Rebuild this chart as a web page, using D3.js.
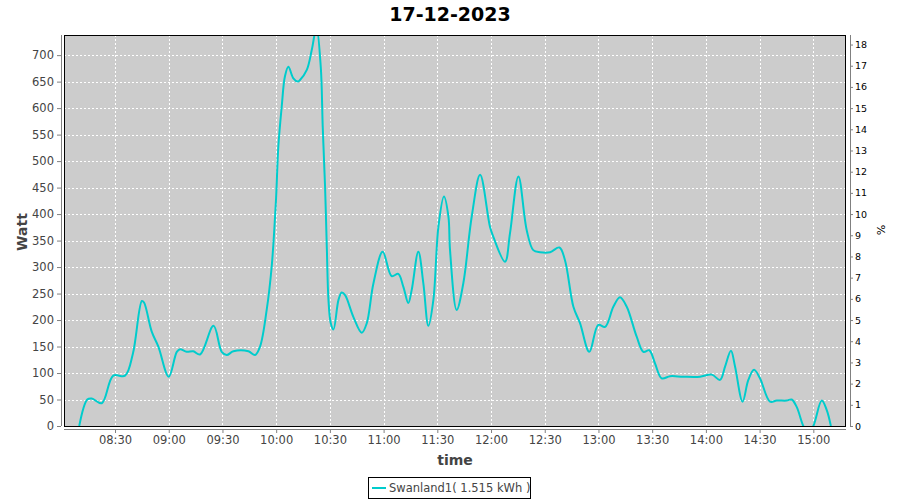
<!DOCTYPE html>
<html><head><meta charset="utf-8">
<script src="https://cdn.jsdelivr.net/npm/d3@7"></script>
<style>body{margin:0;background:#fff}svg{display:block}</style>
</head><body>
<svg id="c" width="900" height="500"></svg>
<script>
const title = "17-12-2023";
const seriesName = "Swanland1( 1.515 kWh )";
const times = ["08:10:00","08:14:30","08:17:00","08:22:36","08:29:00","08:35:36","08:40:00","08:45:00","08:46:12","08:50:30","08:54:12","09:00:00","09:04:30","09:06:18","09:10:00","09:13:42","09:17:30","09:25:00","09:29:36","09:32:24","09:36:06","09:44:30","09:48:12","09:51:00","09:54:42","09:57:30","09:59:54","10:01:12","10:03:06","10:04:54","10:06:48","10:09:36","10:12:00","10:13:18","10:17:06","10:19:54","10:22:30","10:24:54","10:26:00","10:27:18","10:28:18","10:29:12","10:30:30","10:32:00","10:34:48","10:36:36","10:38:30","10:43:06","10:47:48","10:50:36","10:54:18","10:59:30","11:04:30","11:08:12","11:11:00","11:13:48","11:15:42","11:19:24","11:22:12","11:25:00","11:27:48","11:30:36","11:33:42","11:36:12","11:37:06","11:40:48","11:44:30","11:49:12","11:53:54","11:59:24","12:01:18","12:07:48","12:10:36","12:15:18","12:19:54","12:23:36","12:27:24","12:33:00","12:38:12","12:41:18","12:46:00","12:49:42","12:54:54","12:59:54","13:03:42","13:08:18","13:12:00","13:15:48","13:21:18","13:25:06","13:28:24","13:31:36","13:35:18","13:40:00","13:47:24","13:56:42","14:03:18","14:07:54","14:10:42","14:14:00","14:16:18","14:20:30","14:23:42","14:26:54","14:30:12","14:35:48","14:39:36","14:45:06","14:47:54","14:50:42","14:54:24","14:57:00","15:00:00","15:04:42","15:07:30","15:09:48"];
const watts = [0,50,52,43,95,95,137,236,233,178,150,93,140,145,140,141,135,189,140,134,141,141,134,150,219,301,427,527,603,660,678,656,650,653,672,710,752,678,565,452,335,238,194,182,238,252,247,206,176,194,269,329,283,287,263,232,257,329,269,189,238,376,433,395,332,219,269,395,474,376,357,310,364,471,370,332,328,328,337,313,225,194,140,191,187,225,243,225,169,140,143,118,90,94,93,93,97,87,112,142,112,46,87,106,90,46,48,48,50,36,0,-15,0,48,30,0];
const xTickLabels = ["08:30","09:00","09:30","10:00","10:30","11:00","11:30","12:00","12:30","13:00","13:30","14:00","14:30","15:00"];
const xDomain = ["08:01:30","15:18:15"];
const wattMax = 738;
const pctMax = 18.45;

const parse = d3.timeParse("%H:%M:%S");
const parseHM = d3.timeParse("%H:%M");
const data = times.map((t,i)=>({t:parse(t), v:watts[i]}));

const L=64, R=846, T=35, B=426;
const svg = d3.select("#c");
const x = d3.scaleTime().domain(xDomain.map(parse)).range([L,R]);
const y = d3.scaleLinear().domain([0,wattMax]).range([B,T]);
const y2 = d3.scaleLinear().domain([0,pctMax]).range([B,T]);
const font = "'DejaVu Sans', sans-serif";

// plot background
svg.append("rect").attr("x",L).attr("y",T).attr("width",R-L).attr("height",B-T).attr("fill","#cccccc");

// grid
const yTicks = d3.range(0,701,50);
const xTicks = xTickLabels.map(parseHM);
svg.append("g").selectAll("line").data(yTicks.filter(d=>d>0)).join("line")
  .attr("x1",L).attr("x2",R).attr("y1",d=>Math.round(y(d))+0.5).attr("y2",d=>Math.round(y(d))+0.5)
  .attr("stroke","#fff").attr("stroke-width",1).attr("stroke-dasharray","2,2");
svg.append("g").selectAll("line").data(xTicks).join("line")
  .attr("y1",T).attr("y2",B).attr("x1",d=>Math.round(x(d))+0.5).attr("x2",d=>Math.round(x(d))+0.5)
  .attr("stroke","#fff").attr("stroke-width",1).attr("stroke-dasharray","2,2");

// line
svg.append("clipPath").attr("id","clip").append("rect").attr("x",L).attr("y",T).attr("width",R-L).attr("height",B-T);
const line = d3.line().x(d=>x(d.t)).y(d=>y(d.v)).curve(d3.curveCatmullRom.alpha(0.5));
svg.append("path").datum(data).attr("d",line).attr("fill","none").attr("stroke","#00cccc")
  .attr("stroke-width",2).attr("clip-path","url(#clip)");

// plot border
svg.append("rect").attr("x",L+0.5).attr("y",T+0.5).attr("width",R-L-1).attr("height",B-T).attr("fill","none").attr("stroke","#000").attr("stroke-width",1);

// left axis
const gl = svg.append("g").attr("transform",`translate(${L-3},0)`)
  .call(d3.axisLeft(y).tickValues(yTicks).tickSize(4).tickPadding(3));
gl.select(".domain").attr("stroke","#808080").attr("d",`M0.5,${T}V${B}`);
gl.selectAll(".tick line").attr("stroke","#808080");
gl.selectAll("text").attr("font-family",font).attr("font-size",11.5).attr("fill","#444");

// right axis
const gr = svg.append("g").attr("transform",`translate(${R+4},0)`)
  .call(d3.axisRight(y2).tickValues(d3.range(0,19,1)).tickSize(3).tickPadding(2));
gr.select(".domain").attr("stroke","#808080").attr("d",`M0.5,${T}V${B}`);
gr.selectAll(".tick line").attr("stroke","#808080");
gr.selectAll("text").attr("font-family",font).attr("font-size",9.5).attr("fill","#000");

// bottom axis
const gb = svg.append("g").attr("transform",`translate(0,${B+3})`)
  .call(d3.axisBottom(x).tickValues(xTicks).tickFormat(d3.timeFormat("%H:%M")).tickSize(4).tickPadding(3));
gb.select(".domain").attr("stroke","#808080").attr("d",`M${L},0.5H${R}`);
gb.selectAll(".tick line").attr("stroke","#808080");
gb.selectAll("text").attr("font-family",font).attr("font-size",11.5).attr("fill","#444");

// labels
svg.append("text").attr("x",450).attr("y",21).attr("text-anchor","middle")
  .attr("font-family",font).attr("font-weight","bold").attr("font-size",19).attr("fill","#000").text(title);
svg.append("text").attr("transform","translate(27,232) rotate(-90)").attr("text-anchor","middle")
  .attr("font-family",font).attr("font-weight","bold").attr("font-size",14).attr("fill","#444").text("Watt");
svg.append("text").attr("transform","translate(877,230) rotate(90)").attr("text-anchor","middle")
  .attr("font-family",font).attr("font-size",11).attr("fill","#000").text("%");
svg.append("text").attr("x",(L+R)/2).attr("y",465).attr("text-anchor","middle")
  .attr("font-family",font).attr("font-weight","bold").attr("font-size",14).attr("fill","#444").text("time");

// legend
const lg = svg.append("g");
lg.append("rect").attr("x",368.5).attr("y",477.5).attr("width",162).attr("height",21).attr("fill","#fff").attr("stroke","#000");
lg.append("line").attr("x1",372).attr("x2",386).attr("y1",488).attr("y2",488).attr("stroke","#00cccc").attr("stroke-width",2);
lg.append("text").attr("x",389).attr("y",492).attr("font-family",font).attr("font-size",11.5).attr("fill","#444").text(seriesName);
</script>
</body></html>
